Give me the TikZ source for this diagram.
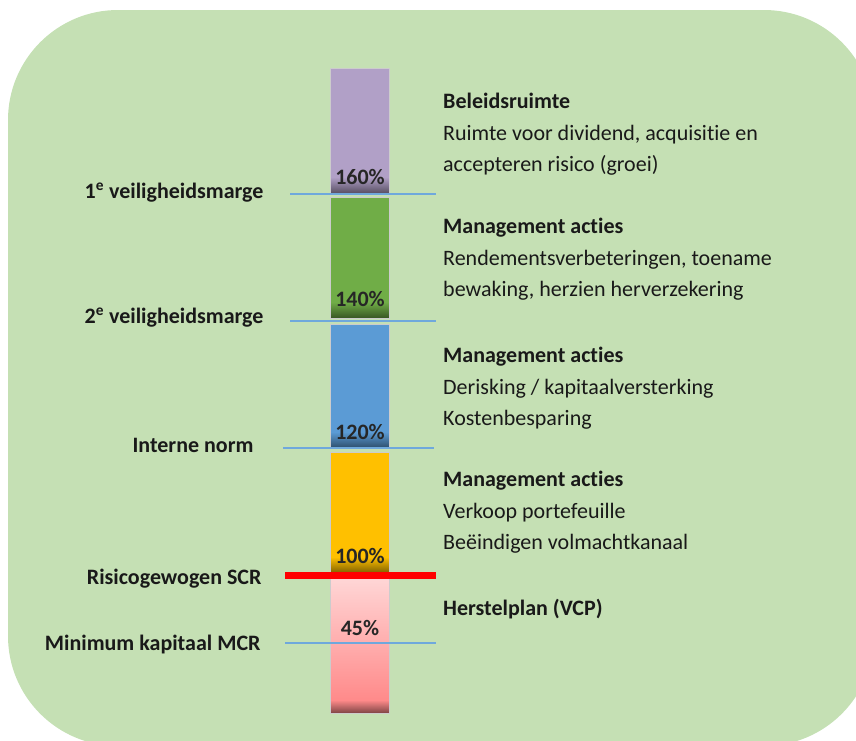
\documentclass[tikz,border=0pt]{standalone}
\usepackage{fontspec}
\setmainfont{Carlito}[Ligatures=NoCommon]
\definecolor{bggreen}{HTML}{C5E0B4}
\definecolor{purp}{HTML}{B1A0C7}
\definecolor{grn}{HTML}{70AD47}
\definecolor{blu}{HTML}{5B9BD5}
\definecolor{org}{HTML}{FFC000}
\definecolor{pinklight}{HTML}{FFD6D6}
\definecolor{pinkdark}{HTML}{FF8A8A}
\definecolor{markline}{HTML}{6FA8DC}
\tikzset{
  lvl/.style={font=\fontsize{22}{26}\selectfont\bfseries, anchor=base east, text=black!90},
  pct/.style={font=\fontsize{22}{26}\selectfont\bfseries, anchor=base, text=black!85},
  desc/.style={align=left, anchor=north west, inner sep=0pt, text=black!90},
  marker/.style={draw=markline, line width=1.2pt}
}
\begin{document}
\begin{tikzpicture}[x=1pt,y=-1pt,font=\fontsize{22}{31.5}\selectfont]
  \useasboundingbox (0,0) rectangle (856,740);
  \begin{scope}
    \clip (0,0) rectangle (856,740);
    \fill[bggreen, rounded corners=110pt] (8,10) rectangle (874,746);
  \end{scope}

  % the bar
  \foreach \ya/\yb/\col in {68/193/purp,197/318/grn,324/448/blu,452/573/org}
  {
    \fill[\col] (330,\ya) rectangle (389,\yb);
    \shade[top color=\col, bottom color=\col!50!black] (330,\yb-16) rectangle (389,\yb);
    \draw[gray!40, line width=0.8pt] (330,\ya) rectangle (389,\yb);
  }
  \shade[top color=pinklight, bottom color=pinkdark] (330,578) rectangle (389,700);
  \shade[top color=pinkdark, bottom color=pinkdark!50!black] (330,700) rectangle (389,713);
  \draw[gray!40, line width=0.8pt] (330,578) rectangle (389,713);

  \node[pct] (p160) at (360,184) {160\%};
  \node[pct] (p140) at (360,306) {140\%};
  \node[pct] (p120) at (360,439) {120\%};
  \node[pct] (p100) at (360,563) {100\%};
  \node[pct] (p45) at (360,635) {45\%};

  % levels
  \draw[marker] (290,194) -- (436,194);
  \draw[marker] (290,321) -- (436,321);
  \draw[marker] (283,448) -- (434,448);
  \draw[red, line width=7pt] (285,575) -- (436,575);
  \draw[marker] (285,643) -- (436,643);

  \node[lvl] (m1) at (267,198) {1\textsuperscript{e} veiligheidsmarge};
  \node[lvl] (m2) at (267,323) {2\textsuperscript{e} veiligheidsmarge};
  \node[lvl] (norm) at (257,452) {Interne norm};
  \node[lvl] (scr) at (265,584) {Risicogewogen SCR};
  \node[lvl] (mcr) at (264,650) {Minimum kapitaal MCR};

  % descriptions
  \node[desc] (d1) at (443,93) {\textbf{Beleidsruimte}\\Ruimte voor dividend, acquisitie en\\accepteren risico (groei)};
  \node[desc] (d2) at (443,218) {\textbf{Management acties}\\Rendementsverbeteringen, toename\\bewaking, herzien herverzekering};
  \node[desc] (d3) at (443,347) {\textbf{Management acties}\\Derisking / kapitaalversterking\\Kostenbesparing};
  \node[desc] (d4) at (443,471) {\textbf{Management acties}\\Verkoop portefeuille\\Beëindigen volmachtkanaal};
  \node[desc] (d5) at (443,599) {\textbf{Herstelplan (VCP)}};
\end{tikzpicture}
\end{document}
